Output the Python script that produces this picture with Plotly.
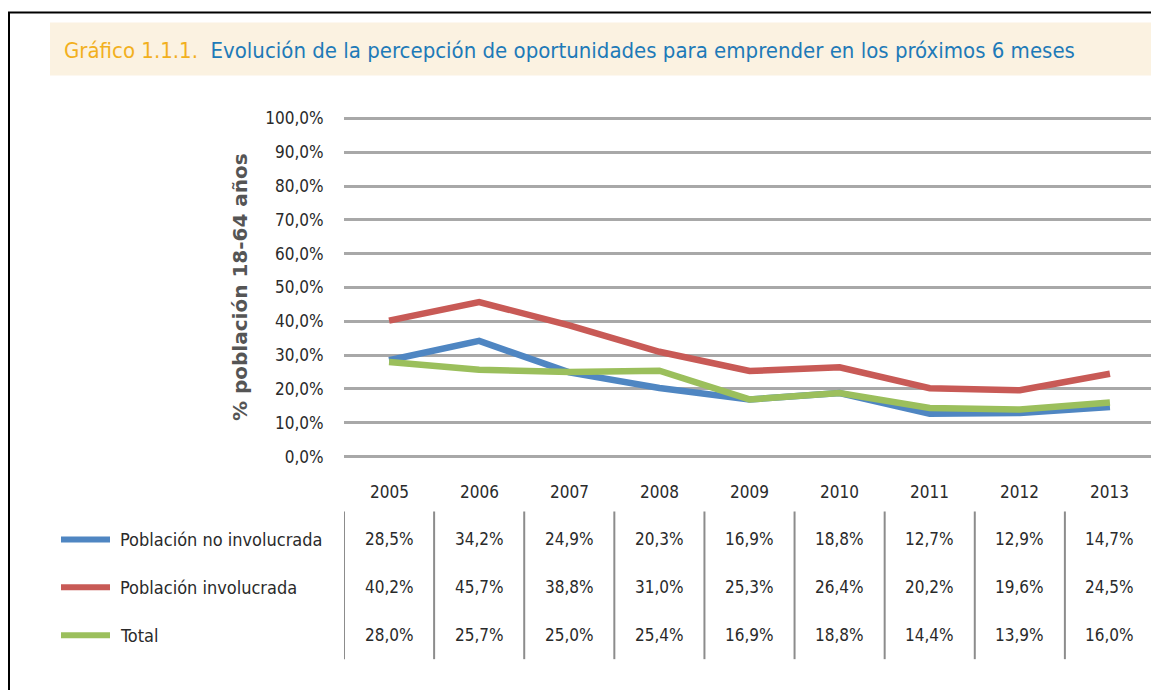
import plotly.graph_objects as go

years = ["2005", "2006", "2007", "2008", "2009", "2010", "2011", "2012", "2013"]
series_names = ["Población no involucrada", "Población involucrada", "Total"]
no_involucrada = [28.5, 34.2, 24.9, 20.3, 16.9, 18.8, 12.7, 12.9, 14.7]
involucrada = [40.2, 45.7, 38.8, 31.0, 25.3, 26.4, 20.2, 19.6, 24.5]
total = [28.0, 25.7, 25.0, 25.4, 16.9, 18.8, 14.4, 13.9, 16.0]
y_ticks = [0, 10, 20, 30, 40, 50, 60, 70, 80, 90, 100]

colors = ["#4F86C2", "#C85A56", "#9BBF5C"]
series = [no_involucrada, involucrada, total]

OFF = 8  # page body margin
W, H = 1159 - OFF, 691 - OFF
# target plot geometry in viewport pixels
Y0PX, Y100PX = 457, 118
PAD = 1.0  # value units of padding so edge gridlines are drawn
unit = (Y0PX - Y100PX) / 100.0
top_px = Y100PX - PAD * unit - OFF
bot_px = Y0PX + PAD * unit - OFF
L = 344 - OFF
R = 4
T = top_px
B = H - bot_px
PW, PH = W - L - R, H - T - B

def px2x(px):
    return (px - OFF - L) / PW

def py2y(py):
    return (bot_px - (py - OFF)) / PH

FONT = "Liberation Sans Narrow, DejaVu Sans Condensed, Arial Narrow, sans-serif"
TXT = "#2A2A2A"

def fmt(v):
    return f"{v:.1f}".replace(".", ",") + "%"

xs = list(range(len(years)))
fig = go.Figure()
for name, vals, col in zip(series_names, series, colors):
    fig.add_trace(go.Scatter(x=xs, y=vals, mode="lines", name=name,
                             line=dict(color=col, width=6.5), showlegend=False,
                             cliponaxis=False))

shapes = []
annotations = []

# Frame
shapes.append(dict(type="line", xref="paper", yref="paper", x0=px2x(8), x1=px2x(1157),
                   y0=py2y(12), y1=py2y(12), line=dict(color="black", width=2)))
shapes.append(dict(type="line", xref="paper", yref="paper", x0=px2x(9), x1=px2x(9),
                   y0=py2y(12), y1=py2y(691), line=dict(color="black", width=2)))
shapes.append(dict(type="line", xref="paper", yref="paper", x0=px2x(1157), x1=px2x(1157),
                   y0=py2y(12), y1=py2y(16), line=dict(color="black", width=2)))

# Title band
shapes.append(dict(type="rect", xref="paper", yref="paper", x0=px2x(50), x1=px2x(1157),
                   y0=py2y(75), y1=py2y(22), fillcolor="#FBF2E1", line=dict(width=0), layer="below"))
annotations.append(dict(xref="paper", yref="paper", x=px2x(62), y=py2y(50), xanchor="left",
                        yanchor="middle", showarrow=False,
                        text="<span style='color:#F2B01E'>Gráfico 1.1.1.</span>  "
                             "<span style='color:#1E7AB8'>Evolución de la percepción de oportunidades para emprender en los próximos 6 meses</span>",
                        font=dict(family=FONT, size=22)))

# Y axis title
annotations.append(dict(xref="paper", yref="paper", x=px2x(240), y=py2y(287), xanchor="center",
                        yanchor="middle", showarrow=False, textangle=-90,
                        text="<b>% población 18-64 años</b>",
                        font=dict(family="DejaVu Sans, sans-serif", size=20, color="#555555")))

# Table: years
row_y = [540, 588, 636]
for i, yr in enumerate(years):
    annotations.append(dict(xref="x", yref="paper", x=i, y=py2y(492), showarrow=False,
                            xanchor="center", yanchor="middle", text=yr,
                            font=dict(family=FONT, size=17, color=TXT)))
# Table values
for r, vals in enumerate(series):
    for i, v in enumerate(vals):
        annotations.append(dict(xref="x", yref="paper", x=i, y=py2y(row_y[r]), showarrow=False,
                                xanchor="center", yanchor="middle", text=fmt(v),
                                font=dict(family=FONT, size=17, color=TXT)))
# Separators
for k in range(len(years) + 1):
    shapes.append(dict(type="line", xref="x", yref="paper", x0=k - 0.5, x1=k - 0.5,
                       y0=py2y(512), y1=py2y(660), line=dict(color="#8C8C8C", width=2)))
# Legend
for r, (name, col) in enumerate(zip(series_names, colors)):
    shapes.append(dict(type="line", xref="paper", yref="paper", x0=px2x(61), x1=px2x(110),
                       y0=py2y(row_y[r]), y1=py2y(row_y[r]), line=dict(color=col, width=6)))
    annotations.append(dict(xref="paper", yref="paper", x=px2x(118), y=py2y(row_y[r]),
                            xanchor="left", yanchor="middle", showarrow=False, text=name,
                            font=dict(family=FONT, size=18, color=TXT)))

fig.update_layout(
    width=W, height=H,
    margin=dict(l=L, r=R, t=T, b=B, autoexpand=False),
    paper_bgcolor="white", plot_bgcolor="white",
    shapes=shapes, annotations=annotations,
    xaxis=dict(range=[-0.5, len(years) - 0.5], showgrid=False, showticklabels=False,
               zeroline=False, showline=False, ticks=""),
    yaxis=dict(range=[-PAD, 100 + PAD], tickvals=y_ticks, ticktext=[fmt(v) for v in y_ticks],
               showgrid=True, gridcolor="#A8A8A8", gridwidth=2.5, zeroline=False,
               showline=False, ticks="outside", ticklen=16, tickcolor="rgba(0,0,0,0)",
               tickfont=dict(family=FONT, size=17, color=TXT)),
)

fig.write_html("out.html")
